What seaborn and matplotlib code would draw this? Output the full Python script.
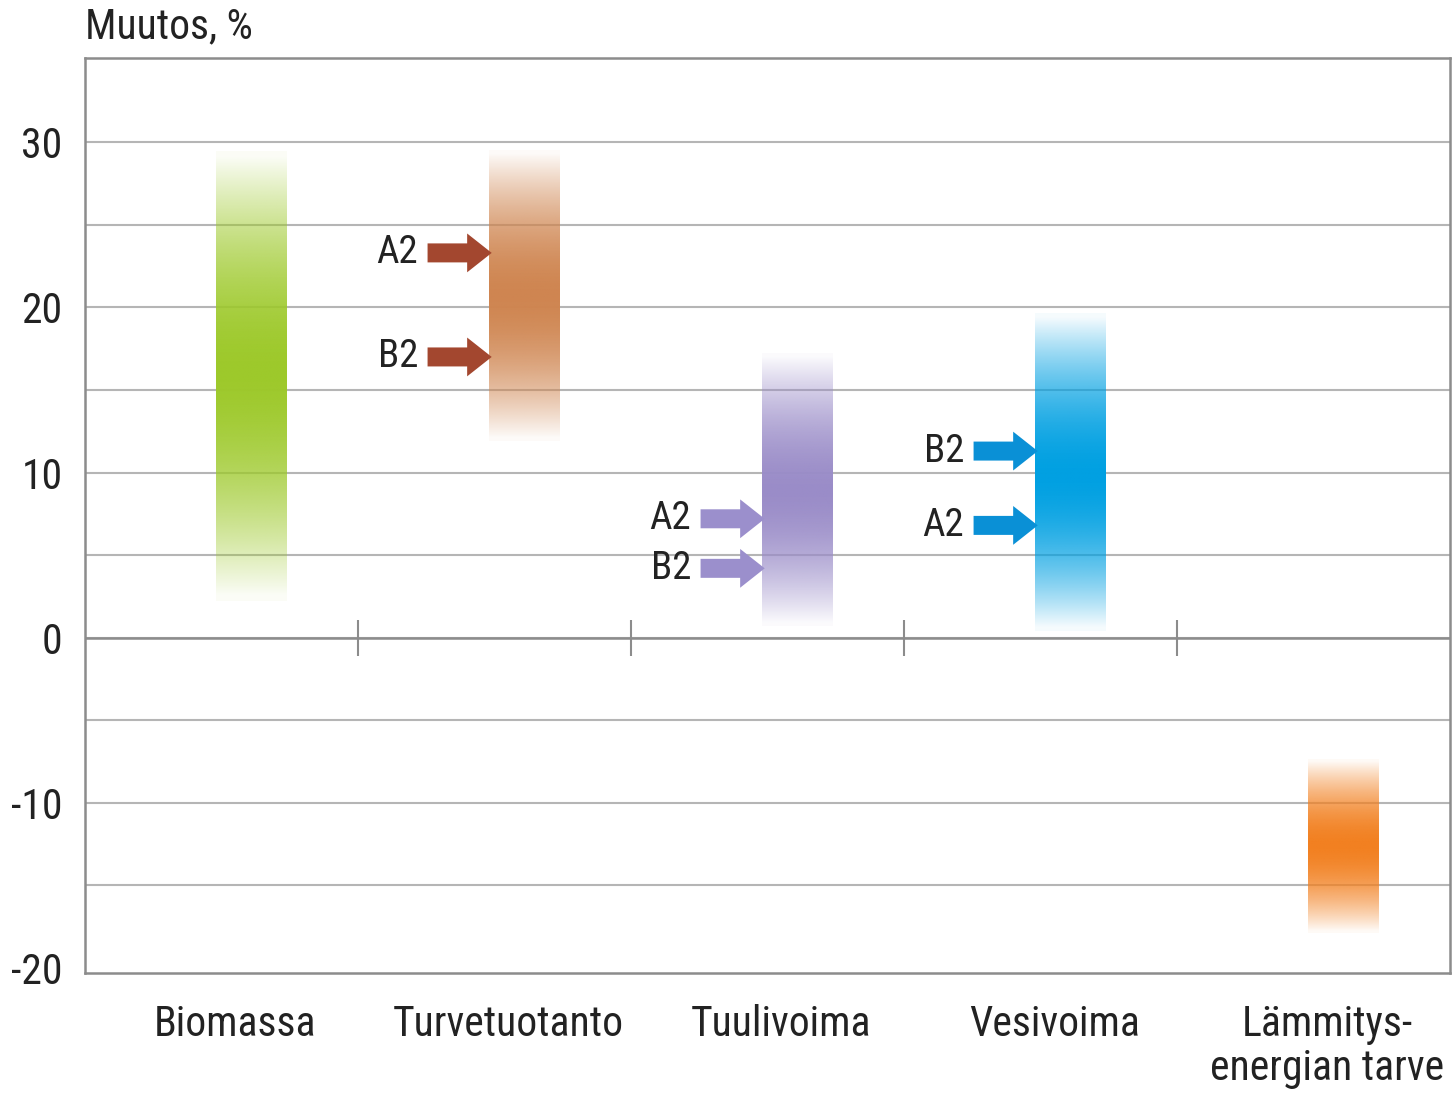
import numpy as np
import matplotlib
matplotlib.use("Agg")
import matplotlib.pyplot as plt
from matplotlib import font_manager
import seaborn as sns

# Data (change in %)
categories = ["Biomassa", "Turvetuotanto", "Tuulivoima", "Vesivoima", "Lämmitys-\nenergian tarve"]
range_low = [2.2, 11.9, 0.7, 0.4, -17.9]
range_high = [29.4, 29.5, 17.2, 19.6, -7.4]
range_peak = [16.1, 20.7, 8.9, 9.8, -12.6]
bar_colors = ["#9dc92a", "#cf8550", "#9a8cc8", "#00a0e2", "#f28020"]

# scenario arrows: (category index, scenario, value)
arrow_cat = [1, 1, 2, 2, 3, 3]
arrow_label = ["A2", "B2", "A2", "B2", "B2", "A2"]
arrow_value = [23.3, 17.0, 7.2, 4.2, 11.3, 6.8]
arrow_colors = {1: "#a3472f", 2: "#9b8fcc", 3: "#0a90d6"}

yticks = [-20, -10, 0, 10, 20, 30]
ytick_labels = ["-20", "-10", "0", "10", "20", "30"]

sns.set_style("white")

# pick a narrow font if one is installed
installed = {f.name for f in font_manager.fontManager.ttflist}
narrow = [n for n in ["Roboto Condensed", "Liberation Sans Narrow", "DejaVu Sans Condensed",
                      "Open Sans Condensed", "Noto Sans Condensed", "Arial Narrow"] if n in installed]
stretch = "normal"
if not narrow:
    cond = [f.name for f in font_manager.fontManager.ttflist
            if "ondensed" in f.fname or "arrow" in f.fname]
    narrow = cond[:1]
    stretch = "condensed"
plt.rcParams["font.family"] = narrow + ["DejaVu Sans"]
plt.rcParams["font.stretch"] = stretch

fig = plt.figure(figsize=(14.52, 11.01), dpi=100)
ax = fig.add_axes([0.0585, 0.1163, 0.9401, 0.8310])

shift = 0.11
bar_w = 0.26


def gradient_image(color, lo, hi, peak, n=400):
    y = np.linspace(lo, hi, n)
    d = np.where(y >= peak, (y - peak) / (hi - peak), (peak - y) / (peak - lo))
    alpha = np.clip(1 - d ** 1.8, 0.04, 1)
    rgb = np.array(matplotlib.colors.to_rgb(color))
    img = np.ones((n, 1, 4))
    img[:, 0, :3] = rgb
    img[:, 0, 3] = alpha
    return img


# grid lines every 5 units
for g in range(-15, 35, 5):
    ax.axhline(g, color="#b5b5b5", lw=1.5, zorder=0)
ax.axhline(0, color="#8c8c8c", lw=1.8, zorder=1)
ax.vlines([0.5, 1.5, 2.5, 3.5], -1.1, 1.1, color="#8c8c8c", lw=1.5, zorder=1)

for i, cat in enumerate(categories):
    x = i + shift
    img = gradient_image(bar_colors[i], range_low[i], range_high[i], range_peak[i])
    ax.imshow(img, extent=[x - bar_w / 2, x + bar_w / 2, range_low[i], range_high[i]],
              origin="lower", aspect="auto", interpolation="bilinear", zorder=2)

arrow_len = 0.235
for c, lab, v in zip(arrow_cat, arrow_label, arrow_value):
    tip = c + shift - bar_w / 2 + 0.01
    ax.arrow(tip - arrow_len, v, arrow_len, 0, width=1.15, head_width=2.35, head_length=0.09,
             length_includes_head=True, color=arrow_colors[c], lw=0, zorder=3)
    ax.text(tip - arrow_len - 0.035, v, lab, ha="right", va="center", fontsize=28,
            color="#222222", zorder=3)

ax.set_xlim(-0.5, 4.5)
ax.set_ylim(-20.3, 35.1)
ax.set_yticks(yticks)
ax.set_yticklabels(ytick_labels)
ax.set_xticks([i + 0.05 for i in range(len(categories))])
ax.set_xticklabels(categories, linespacing=1.1)
ax.tick_params(axis="both", length=0, labelsize=30, colors="#222222")
ax.tick_params(axis="y", pad=16)
ax.tick_params(axis="x", pad=22)

for s in ax.spines.values():
    s.set_color("#8c8c8c")
    s.set_linewidth(1.8)

ax.text(0, 1.012, "Muutos, %", transform=ax.transAxes, ha="left", va="bottom",
        fontsize=30, color="#222222")

fig.savefig("out.png", dpi=100)
